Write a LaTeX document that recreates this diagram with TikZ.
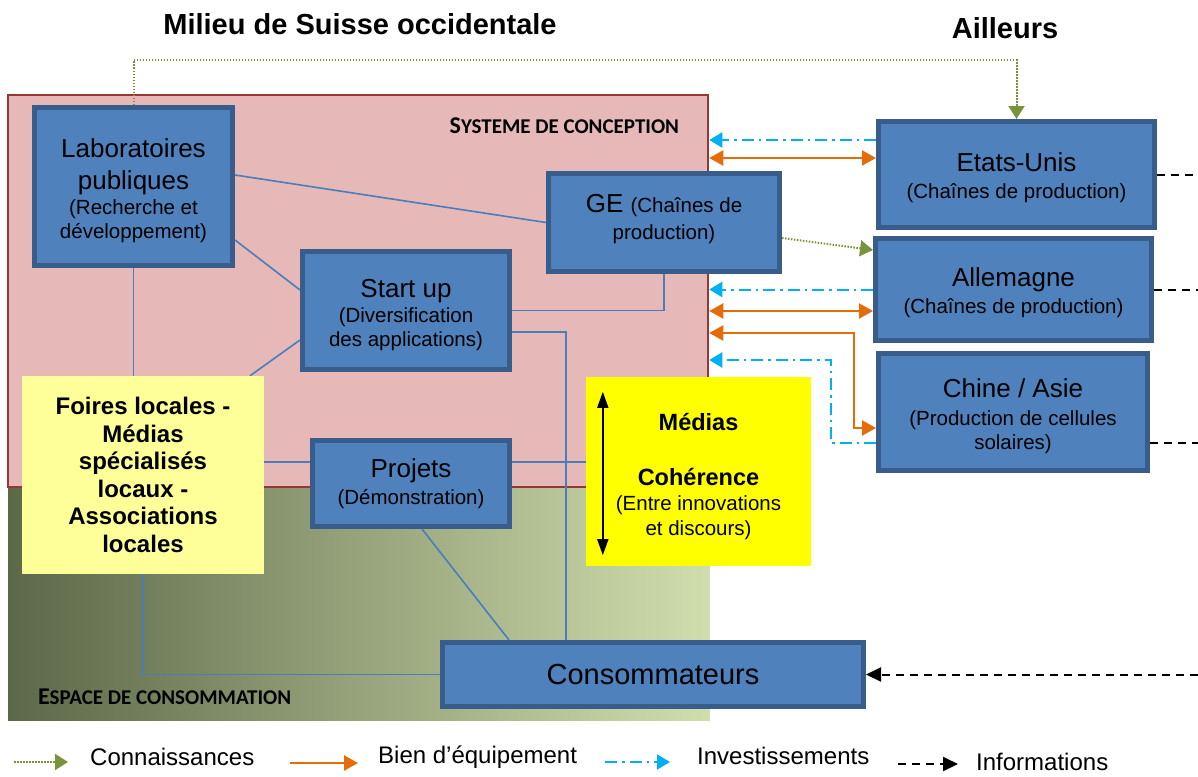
\documentclass[tikz,border=0pt]{standalone}
\usepackage{fontspec}
\setmainfont{Liberation Sans}
\newfontfamily\calib{Carlito}
\usetikzlibrary{arrows.meta,calc}
\definecolor{boxfill}{HTML}{4F81BD}
\definecolor{boxline}{HTML}{385D8A}
\definecolor{pinkfill}{HTML}{E6B9B8}
\definecolor{pinkline}{HTML}{953735}
\definecolor{conncol}{HTML}{4A7EBB}
\definecolor{knowcol}{HTML}{77933C}
\definecolor{equipcol}{HTML}{E46C0A}
\definecolor{invcol}{HTML}{00B0F0}
\definecolor{gdark}{HTML}{5C6848}
\definecolor{glight}{HTML}{D0DEAE}
\definecolor{paleyellow}{HTML}{FFFF99}
\definecolor{brightyellow}{HTML}{FFFF00}
\newcommand\fsA{\fontsize{26}{30}\selectfont}
\newcommand\fsB{\fontsize{20.5}{24}\selectfont}
\newcommand\fsL{\fontsize{24}{28}\selectfont}
\newcommand\fsT{\fontsize{29}{34}\selectfont\bfseries}
\newcommand\upstrut[1]{\rule{0pt}{#1pt}}
\newcommand\downstrut[1]{\rule[-#1pt]{0pt}{0pt}}
\pgfdeclarelayer{bg}
\pgfdeclarelayer{mid}
\pgfsetlayers{bg,mid,main}
\tikzset{
  GT/.tip={Triangle[length=13pt,width=16pt]},
  OT/.tip={Triangle[length=14pt,width=15pt]},
  CT/.tip={Triangle[length=13pt,width=15pt]},
  BT/.tip={Triangle[length=15pt,width=14pt]},
  MT/.tip={Triangle[length=16pt,width=11pt]},
}
\begin{document}
\begin{tikzpicture}[x=1pt,y=-1pt,
  bbox/.style={draw=boxline, line width=5pt, fill=boxfill, inner sep=0pt, align=center, font=\fsB},
  ybox/.style={inner sep=0pt, align=center},
  conn/.style={draw=conncol, line width=1.6pt},
  know/.style={draw=knowcol, line width=2pt, dash pattern=on 1.5pt off 1.5pt},
  equip/.style={draw=equipcol, line width=2.2pt},
  inv/.style={draw=invcol, line width=2pt, dash pattern=on 12pt off 5pt on 2.5pt off 5pt},
  info/.style={draw=black, line width=2pt, dash pattern=on 8pt off 6pt},
  smc/.style={inner sep=0pt, font=\calib\bfseries},
  legtext/.style={anchor=west, inner sep=0pt, font=\fsL},
]
\useasboundingbox (0,0) rectangle (1198,776);
\coordinate (redge) at (1198,0);

% titles
\node[font=\fsT] (t1) at (360,24) {Milieu de Suisse occidentale};
\node[font=\fsT] (t2) at (1005,28) {Ailleurs};

% regions
\begin{pgfonlayer}{bg}
\node[left color=gdark, right color=glight, minimum width=702pt, minimum height=233pt, inner sep=0pt] (esp) at (359,603.5) {};
\node[draw=pinkline, fill=pinkfill, line width=2.5pt, minimum width=700pt, minimum height=392pt, inner sep=0pt] (sys) at (358,291) {};
\end{pgfonlayer}
\node[smc, anchor=east] (syslab) at ([xshift=-30pt,yshift=-32pt]sys.north east) {{\fontsize{24}{24}\selectfont S}{\fontsize{21}{21}\selectfont YSTEME DE CONCEPTION}};
\node[smc, anchor=west] (esplab) at ([xshift=30pt,yshift=23pt]esp.south west) {{\fontsize{24}{24}\selectfont E}{\fontsize{21}{21}\selectfont SPACE DE CONSOMMATION}};

% boxes
\node[bbox, minimum width=198pt, minimum height=158pt] (lab) at (133.5,186.5)
  {\fsA\upstrut{27}Laboratoires\\[8pt]\fsA publiques\\[1pt](Recherche et\\développement)};
\node[bbox, minimum width=231pt, minimum height=98pt] (ge) at (664,222.5)
  {\fsA GE \fsB(Chaînes de\\[3pt]production)\downstrut{11}};
\node[bbox, minimum width=207pt, minimum height=118pt] (su) at (406,310.5)
  {\fsA\upstrut{28}Start up\\[1pt](Diversification\\des applications)};
\node[bbox, minimum width=197pt, minimum height=86pt] (pr) at (411,483.5)
  {\fsA Projets\\[3pt](Démonstration)};
\node[bbox, minimum width=421pt, minimum height=64pt, font=\fontsize{29}{34}\selectfont] (co) at (653,674.5)
  {Consommateurs};
\node[bbox, minimum width=276pt, minimum height=106pt] (us) at (1016.5,174.5)
  {\fsA\upstrut{26}Etats-Unis\\[3pt](Chaînes de production)};
\node[bbox, minimum width=276pt, minimum height=102pt] (de) at (1013.5,289.5)
  {\fsA\upstrut{24.5}Allemagne\\[3pt](Chaînes de production)};
\node[bbox, minimum width=269pt, minimum height=117pt] (cn) at (1013,412)
  {\fsA\upstrut{27}Chine / Asie\\[4pt](Production de cellules\\solaires)};
\node[ybox, fill=paleyellow, minimum width=242pt, minimum height=198pt, font=\bfseries\fontsize{24}{27.5}\selectfont] (foires) at (143,475)
  {Foires locales -\\Médias\\spécialisés\\locaux -\\Associations\\locales};
\node[ybox, fill=brightyellow, minimum width=225pt, minimum height=189pt, font=\fsB] (medias) at (698.5,471.5)
  {\bfseries\fontsize{23.5}{24}\selectfont\upstrut{27}Médias\\[31pt]\bfseries\fontsize{23.5}{24}\selectfont Cohérence\\[1pt](Entre innovations\\[1pt]et discours)};
\draw[black, line width=1.6pt, MT-MT] ([xshift=17pt,yshift=-15pt]medias.north west) -- ([xshift=17pt,yshift=11pt]medias.south west);

% connectors
\begin{pgfonlayer}{mid}
\draw[conn] ([yshift=11.5pt]lab.east) -- (ge.west);
\draw[conn] ([yshift=-53.5pt]lab.east) -- ([yshift=20.5pt]su.west);
\draw[conn] (lab.south) -- (lab.south |- foires.north);
\draw[conn] ([yshift=-29.5pt]su.west) -- ([xshift=107pt]foires.north);
\draw[conn] (ge.south) |- (su.east);
\draw[conn] ([yshift=-21.5pt]su.east) -| ([xshift=-87pt]co.north);
\coordinate (py) at ([yshift=21.5pt]pr.west);
\draw[conn] (py) -- (py -| foires.east);
\draw[conn] (pr.east |- py) -- (medias.west |- py);
\draw[conn] ([xshift=11pt]pr.south) -- ([xshift=-144pt]co.north);
\draw[conn] (foires.south) |- (co.west);

% knowledge
\coordinate (kt) at ([yshift=59pt]us.north);
\draw[know, -GT] (lab.north) |- (kt) -- (us.north);
\draw[know, -GT] ([yshift=-15.5pt]ge.east) -- ([yshift=39.5pt]de.west);

% equipment
\draw[equip, OT-OT] ([yshift=16.5pt]us.west -| sys.east) -- ([yshift=16.5pt]us.west);
\draw[equip, OT-OT] ([yshift=-21.5pt]de.west -| sys.east) -- ([yshift=-21.5pt]de.west);
\coordinate (o3) at ([yshift=-43.5pt]de.west);
\coordinate (o3c) at ([xshift=-22pt,yshift=-16pt]cn.west);
\draw[equip, OT-OT] (o3 -| sys.east) -- (o3 -| o3c) -- (o3c) -- ([yshift=-16pt]cn.west);

% investments
\draw[inv, -CT] ([yshift=34.5pt]us.west) -- ([yshift=34.5pt]us.west -| sys.east);
\draw[inv, -CT] (de.west) -- (de.west -| sys.east);
\coordinate (i3) at ([yshift=-70.5pt]de.west);
\coordinate (i3c) at ([xshift=-45pt,yshift=-31pt]cn.west);
\draw[inv, -CT] ([yshift=-31pt]cn.west) -- (i3c) -- (i3 -| i3c) -- (i3 -| sys.east);

% information
\draw[info] (us.east) -- (us.east -| redge);
\draw[info] (de.east) -- (de.east -| redge);
\draw[info] ([yshift=-31pt]cn.east) -- ([yshift=-31pt]cn.east -| redge);
\draw[info, -BT] (co.east -| redge) -- (co.east);
\end{pgfonlayer}

% legend
\coordinate (k1) at (14,762); \coordinate (k2) at (68,762);
\coordinate (e1) at (290,763); \coordinate (e2) at (358,763);
\coordinate (i1) at (605,762); \coordinate (i2) at (670,762);
\coordinate (n1) at (898,764); \coordinate (n2) at (958,764);
\draw[know, -GT] (k1) -- (k2);
\draw[equip, -OT] (e1) -- (e2);
\draw[inv, -CT] (i1) -- (i2);
\draw[info, -BT] (n1) -- (n2);
\node[legtext] (lk) at (90,757) {Connaissances};
\node[legtext] (le) at (378,757) {Bien d’équipement};
\node[legtext] (li) at (697,756) {Investissements};
\node[legtext] (ln) at (976,762) {Informations};
\end{tikzpicture}
\end{document}
